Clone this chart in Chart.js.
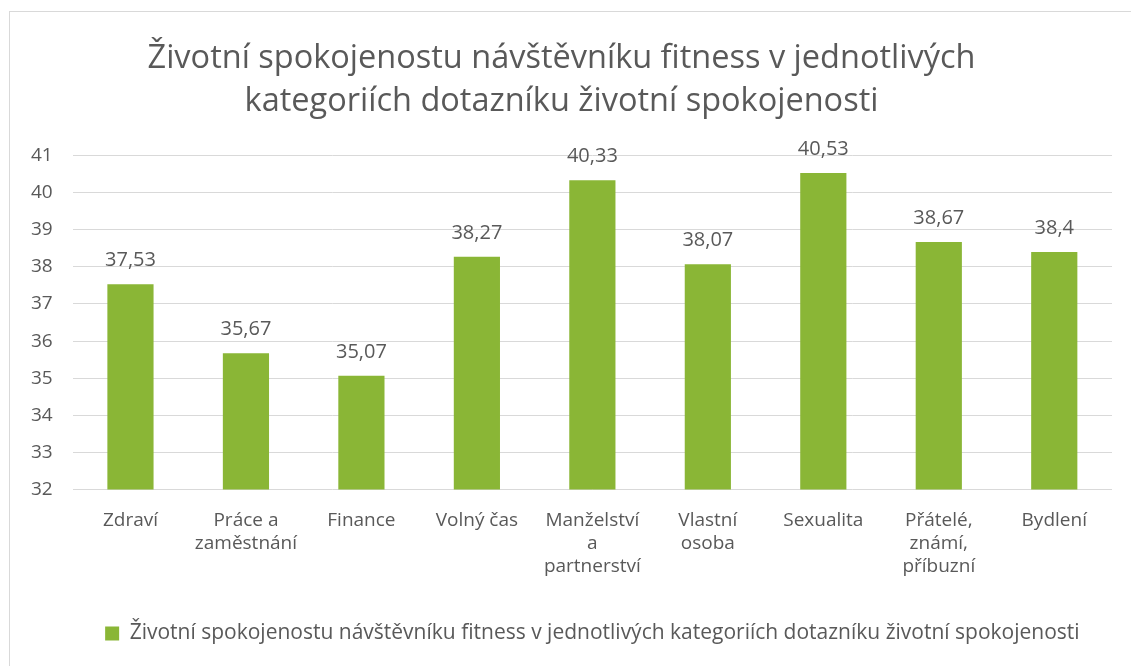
<!DOCTYPE html>
<html>
<head>
<meta charset="utf-8">
<script src="https://cdn.jsdelivr.net/npm/chart.js@4"></script>
<style>
  html, body { margin: 0; padding: 0; background: #fff; }
  #wrap { position: relative; width: 1131px; height: 666px; }
  #frame { position: absolute; left: 9px; top: 11px; width: 1140px; height: 670px; border: 1px solid #d9d9d9; box-sizing: border-box; }
  canvas { position: absolute; left: 0; top: 0; }
</style>
</head>
<body>
<div id="wrap">
  <div id="frame"></div>
  <canvas id="chart" width="1131" height="666"></canvas>
</div>
<script>
const categories = [
  "Zdraví",
  ["Práce a", "zaměstnání"],
  "Finance",
  "Volný čas",
  ["Manželství", "a", "partnerství"],
  ["Vlastní", "osoba"],
  "Sexualita",
  ["Přátelé,", "známí,", "příbuzní"],
  "Bydlení"
]
const values = [37.53, 35.67, 35.07, 38.27, 40.33, 38.07, 40.53, 38.67, 38.4]
const seriesName = "Životní spokojenostu návštěvníku fitness v jednotlivých kategoriích dotazníku životní spokojenosti"
const titleLines = ["Životní spokojenostu návštěvníku fitness v jednotlivých", "kategoriích dotazníku životní spokojenosti"]

const FONT = "'Open Sans', sans-serif"
const GRAY = "#595959"

const valueLabels = {
  id: "valueLabels",
  afterDatasetsDraw(chart) {
    const ctx = chart.ctx
    const meta = chart.getDatasetMeta(0)
    ctx.save()
    ctx.font = "20px " + FONT
    ctx.fillStyle = GRAY
    ctx.textAlign = "center"
    ctx.textBaseline = "alphabetic"
    meta.data.forEach((bar, i) => {
      ctx.fillText(String(values[i]).replace(".", ","), bar.x, bar.y - 18)
    })
    ctx.restore()
  }
}

new Chart(document.getElementById("chart"), {
  type: "bar",
  data: {
    labels: categories,
    datasets: [{
      label: seriesName,
      data: values,
      backgroundColor: "#8ab636",
      barPercentage: 0.4,
      categoryPercentage: 1
    }]
  },
  options: {
    responsive: false,
    animation: false,
    layout: { padding: { left: 11, right: 19, top: 12, bottom: 12 } },
    plugins: {
      title: {
        display: true,
        text: titleLines,
        color: GRAY,
        font: { family: FONT, size: 32.5, weight: "normal", lineHeight: 1.3 },
        padding: { top: 26, bottom: 33 }
      },
      legend: {
        position: "bottom",
        fullSize: false,
        labels: {
          color: GRAY,
          font: { family: FONT, size: 21 },
          boxWidth: 14,
          boxHeight: 14,
          padding: 33
        }
      },
      tooltip: { enabled: false }
    },
    scales: {
      x: {
        grid: { display: false },
        border: { display: false },
        ticks: { color: GRAY, font: { family: FONT, size: 19 }, maxRotation: 0, autoSkip: false, padding: 12 }
      },
      y: {
        min: 32,
        max: 41,
        ticks: { stepSize: 1, color: GRAY, font: { family: FONT, size: 19 }, padding: 20 },
        grid: { color: "#d9d9d9", drawTicks: false },
        border: { display: false }
      }
    }
  },
  plugins: [valueLabels]
})
</script>
</body>
</html>
